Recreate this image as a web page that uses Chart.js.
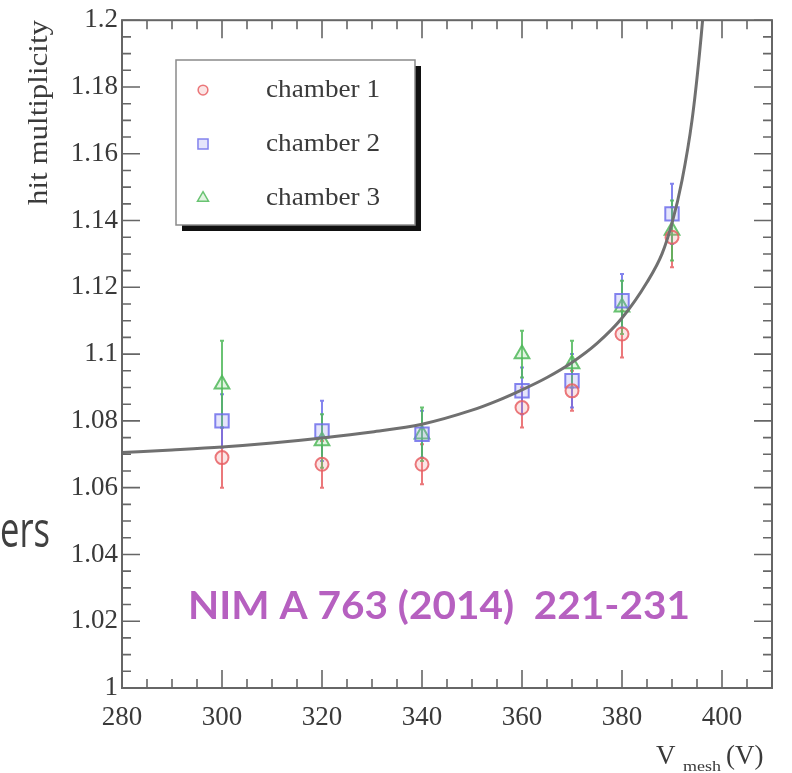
<!DOCTYPE html>
<html>
<head>
<meta charset="utf-8">
<script src="https://cdn.jsdelivr.net/npm/chart.js@4/dist/chart.umd.min.js"></script>
<style>
  html, body { margin: 0; padding: 0; background: #fff; }
  #wrap { width: 792px; height: 773px; position: relative; }
</style>
</head>
<body>
<div id="wrap"><canvas id="c" width="792" height="773"></canvas></div>
<script>
// Mesh voltage settings (V)
const meshVoltages = [300, 320, 340, 360, 370, 380, 390];

// Hit multiplicity per chamber and its uncertainty
const chamber1 = [1.069, 1.067, 1.067, 1.084, 1.089, 1.106, 1.135];
const chamber1Err = [0.009, 0.007, 0.006, 0.006, 0.006, 0.007, 0.009];
const chamber2 = [1.080, 1.077, 1.076, 1.089, 1.092, 1.116, 1.142];
const chamber2Err = [0.008, 0.009, 0.007, 0.007, 0.008, 0.008, 0.009];
const chamber3 = [1.091, 1.074, 1.076, 1.100, 1.097, 1.114, 1.137];
const chamber3Err = [0.013, 0.008, 0.008, 0.007, 0.007, 0.008, 0.009];

// Fitted curve through all chambers
const fitV = [280, 290, 300, 310, 320, 330, 340, 350, 355, 360, 365, 370, 375, 380, 385, 388, 390, 392, 394, 395.5, 396.5, 397.5];
const fitY = [1.0705, 1.0713, 1.0722, 1.0734, 1.0749, 1.0767, 1.0790, 1.0832, 1.0860, 1.0893, 1.0930, 1.0975, 1.1032, 1.1108, 1.1215, 1.1300, 1.1392, 1.1520, 1.1700, 1.1900, 1.2070, 1.2300];

// Axis ticks
const xTickValues = [280, 300, 320, 340, 360, 380, 400];
const xTickLabels = ['280', '300', '320', '340', '360', '380', '400'];
const yTickValues = [1, 1.02, 1.04, 1.06, 1.08, 1.1, 1.12, 1.14, 1.16, 1.18, 1.2];
const yTickLabels = ['1', '1.02', '1.04', '1.06', '1.08', '1.1', '1.12', '1.14', '1.16', '1.18', '1.2'];

const seriesNames = ['chamber 1', 'chamber 2', 'chamber 3'];
const citation = 'NIM A 763 (2014)  221-231';

const SERIF = '"Liberation Serif", "DejaVu Serif", serif';
const TEXT = '#3a3a3a';
const FRAME = '#666666';

const red = 'rgba(232,96,100,0.85)';
const blue = 'rgba(110,110,235,0.85)';
const green = 'rgba(80,185,90,0.85)';

function pts(ys) { return meshVoltages.map((v, i) => ({ x: v, y: ys[i] })); }

const errors = [chamber1Err, chamber2Err, chamber3Err];

// Vertical error bars drawn through the chart's own scales
const errorBars = {
  id: 'errorBars',
  beforeDatasetsDraw(chart) {
    const { ctx, scales: { x, y } } = chart;
    ctx.save();
    chart.data.datasets.forEach((ds) => {
      if (ds.errIndex === undefined) return;
      const err = errors[ds.errIndex];
      ctx.strokeStyle = ds.borderColor;
      ctx.lineWidth = 2;
      ds.data.forEach((p, i) => {
        const px = x.getPixelForValue(p.x);
        const top = y.getPixelForValue(p.y + err[i]);
        const bot = y.getPixelForValue(p.y - err[i]);
        ctx.beginPath();
        ctx.moveTo(px, top); ctx.lineTo(px, bot);
        ctx.moveTo(px - 2, top); ctx.lineTo(px + 2, top);
        ctx.moveTo(px - 2, bot); ctx.lineTo(px + 2, bot);
        ctx.stroke();
      });
    });
    ctx.restore();
  }
};

// Frame with inward major/minor ticks on all four sides
const frameTicks = {
  id: 'frameTicks',
  afterDraw(chart) {
    const { ctx, chartArea: a, scales: { x, y } } = chart;
    ctx.save();
    ctx.strokeStyle = FRAME;
    ctx.lineWidth = 2;
    ctx.strokeRect(a.left, a.top, a.right - a.left, a.bottom - a.top);
    ctx.lineWidth = 1.6;
    ctx.beginPath();
    for (let v = 280; v <= 410; v += 5) {
      const px = x.getPixelForValue(v);
      const len = (v % 20 === 0) ? 18 : 9;
      ctx.moveTo(px, a.bottom); ctx.lineTo(px, a.bottom - len);
      ctx.moveTo(px, a.top); ctx.lineTo(px, a.top + len);
    }
    for (let k = 0; k <= 40; k++) {
      const v = 1 + k * 0.005;
      const py = y.getPixelForValue(v);
      const len = (k % 4 === 0) ? 18 : 9;
      ctx.moveTo(a.left, py); ctx.lineTo(a.left + len, py);
      ctx.moveTo(a.right, py); ctx.lineTo(a.right - len, py);
    }
    ctx.stroke();
    ctx.restore();
  }
};

function fitText(ctx, text, x, y, width) {
  const w = ctx.measureText(text).width;
  ctx.save();
  ctx.translate(x, y);
  ctx.scale(width / w, 1);
  ctx.fillText(text, 0, 0);
  ctx.restore();
}

// Titles, legend box and annotation text
const annotations = {
  id: 'annotations',
  afterDraw(chart) {
    const { ctx } = chart;
    ctx.save();

    // y title, aligned to the top of the axis
    ctx.fillStyle = TEXT;
    ctx.font = '27px ' + SERIF;
    ctx.textBaseline = 'middle';
    ctx.save();
    ctx.translate(40, 205);
    ctx.rotate(-Math.PI / 2);
    ctx.textAlign = 'left';
    fitText(ctx, 'hit multiplicity', 0, 0, 185);
    ctx.restore();

    // x title with subscript
    ctx.textAlign = 'left';
    ctx.textBaseline = 'alphabetic';
    ctx.font = '27px ' + SERIF;
    ctx.fillText('V', 656, 764);
    ctx.font = '14px ' + SERIF;
    fitText(ctx, 'mesh', 683, 771, 38);
    ctx.font = '27px ' + SERIF;
    ctx.fillText('(V)', 726, 764);

    // legend box with drop shadow
    const lx = 176, ly = 60, lw = 239, lh = 165;
    ctx.fillStyle = '#111';
    ctx.fillRect(lx + 6, ly + lh, lw, 6);
    ctx.fillRect(lx + lw, ly + 6, 6, lh);
    ctx.fillStyle = '#fff';
    ctx.fillRect(lx, ly, lw, lh);
    ctx.strokeStyle = '#8a8a8a';
    ctx.lineWidth = 1.5;
    ctx.strokeRect(lx, ly, lw, lh);

    const rowY = [90, 144, 198];
    chart.data.datasets.forEach((ds, i) => {
      if (ds.errIndex === undefined) return;
      ctx.strokeStyle = ds.borderColor;
      ctx.fillStyle = ds.backgroundColor;
      ctx.lineWidth = 1.5;
      Chart.helpers.drawPoint(ctx, {
        pointStyle: ds.pointStyle,
        radius: ds.pointRadius * 0.75,
        borderWidth: 1.5
      }, 203, rowY[i]);
      ctx.fillStyle = TEXT;
      ctx.font = '25px ' + SERIF;
      ctx.textBaseline = 'middle';
      ctx.textAlign = 'left';
      fitText(ctx, ds.label, 266, rowY[i], 114);
    });

    // citation
    ctx.fillStyle = 'rgb(182,96,192)';
    ctx.font = 'bold 38px Lato, "Open Sans", sans-serif';
    ctx.textBaseline = 'middle';
    ctx.textAlign = 'left';
    fitText(ctx, citation, 188, 607, 502);

    // slide text fragment at the left edge
    ctx.fillStyle = '#404040';
    ctx.font = '50px "Open Sans", Lato, sans-serif';
    ctx.textBaseline = 'alphabetic';
    fitText(ctx, 'ers', 0, 547, 50);

    ctx.restore();
  }
};

const markerStyle = (color, fill, style, r) => ({
  borderColor: color,
  backgroundColor: fill,
  pointStyle: style,
  pointRadius: r,
  pointBorderWidth: 2,
  pointBackgroundColor: fill,
  pointBorderColor: color,
  showLine: false
});

new Chart(document.getElementById('c'), {
  type: 'scatter',
  data: {
    datasets: [
      Object.assign({ label: seriesNames[0], data: pts(chamber1), errIndex: 0 },
        markerStyle(red, 'rgba(240,150,150,0.25)', 'circle', 6.5)),
      Object.assign({ label: seriesNames[1], data: pts(chamber2), errIndex: 1 },
        markerStyle(blue, 'rgba(150,150,240,0.25)', 'rect', 9.5)),
      Object.assign({ label: seriesNames[2], data: pts(chamber3), errIndex: 2 },
        markerStyle(green, 'rgba(140,210,140,0.25)', 'triangle', 8.5)),
      {
        type: 'line',
        label: 'fit',
        data: fitV.map((v, i) => ({ x: v, y: fitY[i] })),
        borderColor: '#707070',
        borderWidth: 3,
        pointRadius: 0,
        fill: false,
        cubicInterpolationMode: 'monotone',
        order: -1
      }
    ]
  },
  options: {
    responsive: false,
    animation: false,
    events: [],
    layout: { padding: { left: 0, top: 20, right: 20, bottom: 0 } },
    plugins: { legend: { display: false }, tooltip: { enabled: false } },
    scales: {
      x: {
        type: 'linear', min: 280, max: 410,
        grid: { display: false, drawTicks: false },
        border: { display: false },
        afterBuildTicks: (s) => { s.ticks = xTickValues.map(v => ({ value: v })); },
        afterFit: (s) => { s.height = 85; },
        ticks: {
          padding: 14,
          color: TEXT,
          font: { family: SERIF, size: 27 },
          maxRotation: 0,
          autoSkip: false,
          callback: (v, i) => xTickLabels[i]
        }
      },
      y: {
        type: 'linear', min: 1, max: 1.2,
        grid: { display: false, drawTicks: false },
        border: { display: false },
        afterBuildTicks: (s) => { s.ticks = yTickValues.map(v => ({ value: v })); },
        afterFit: (s) => { s.width = 122; },
        ticks: {
          padding: 4,
          color: TEXT,
          font: { family: SERIF, size: 27 },
          autoSkip: false,
          callback: (v, i) => yTickLabels[i]
        }
      }
    }
  },
  plugins: [errorBars, frameTicks, annotations]
});
</script>
</body>
</html>
